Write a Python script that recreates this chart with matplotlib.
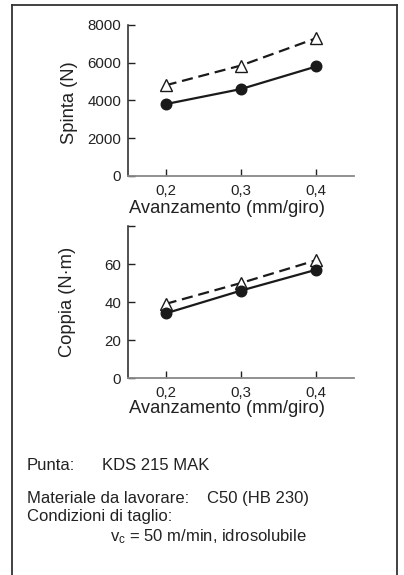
import matplotlib
matplotlib.use("Agg")
import matplotlib.pyplot as plt
from matplotlib.lines import Line2D

plt.rcParams['font.family'] = ['Liberation Sans', 'DejaVu Sans']
plt.rcParams['mathtext.fontset'] = 'custom'
plt.rcParams['mathtext.rm'] = 'Liberation Sans'
plt.rcParams['mathtext.it'] = 'Liberation Sans'

# Data
feed = [0.2, 0.3, 0.4]
feed_labels = ['0,2', '0,3', '0,4']
thrust_solid = [3800, 4600, 5800]
thrust_dashed = [4800, 5850, 7300]
torque_solid = [34, 46, 57]
torque_dashed = [39, 50, 62]
thrust_ticks = [0, 2000, 4000, 6000, 8000]
torque_ticks = [0, 20, 40, 60, 80]
torque_tick_labels = ['0', '20', '40', '60', '']

W, H = 404, 575
fig = plt.figure(figsize=(W / 100, H / 100), dpi=100)

def fx(px):
    return px / W

def fy(py):
    return 1 - py / H

# frame (no bottom edge)
frame_col = '#333333'
for xs, ys in [([12, 12], [5, 575]), ([397, 397], [5, 575]), ([12, 397], [5, 5])]:
    fig.add_artist(Line2D([fx(x) for x in xs], [fy(y) for y in ys],
                          color=frame_col, lw=1.3, transform=fig.transFigure))

def style_axes(ax, yticks, ylabels, ylim):
    ax.set_xlim(0.15, 0.45)
    ax.set_ylim(*ylim)
    ax.set_xticks(feed)
    ax.set_xticklabels(feed_labels)
    ax.set_yticks(yticks)
    ax.set_yticklabels(ylabels)
    for s in ['top', 'right']:
        ax.spines[s].set_visible(False)
    ax.spines['left'].set_color('#222222')
    ax.spines['left'].set_linewidth(1.1)
    ax.spines['bottom'].set_color('#888888')
    ax.spines['bottom'].set_linewidth(1.3)
    ax.tick_params(axis='both', direction='in', length=5, width=1.0,
                   labelsize=10.8, colors='#222222')
    ax.tick_params(axis='x', pad=6, color='#222222')
    ax.tick_params(axis='y', pad=5)
    ax.patch.set_alpha(0)

def draw(ax, solid, dashed):
    ax.plot(feed, dashed, color='#1a1a1a', lw=1.6, ls=(0, (5, 2.6)),
            marker='^', markersize=9, markerfacecolor='white',
            markeredgecolor='#1a1a1a', markeredgewidth=1.0, clip_on=False, zorder=3)
    ax.plot(feed, solid, color='#1a1a1a', lw=1.6, ls='-',
            marker='o', markersize=7.6, markerfacecolor='#1a1a1a',
            markeredgecolor='#1a1a1a', clip_on=False, zorder=4)

# top axes
y_top0, y_top1 = 25, 175.7
ax1 = fig.add_axes([fx(128), fy(y_top1), fx(354) - fx(128), (y_top1 - y_top0) / H])
draw(ax1, thrust_solid, thrust_dashed)
style_axes(ax1, thrust_ticks, [str(t) for t in thrust_ticks], (0, 8000))

# bottom axes
y_b0, y_b1 = 226, 378
ax2 = fig.add_axes([fx(128), fy(y_b1), fx(354) - fx(128), (y_b1 - y_b0) / H])
draw(ax2, torque_solid, torque_dashed)
style_axes(ax2, torque_ticks, torque_tick_labels, (0, 80))

# axis labels
lab_size = 13.2
fig.text(fx(227), fy(213), 'Avanzamento (mm/giro)', ha='center', va='baseline',
         fontsize=lab_size, color='#222222')
fig.text(fx(227), fy(413), 'Avanzamento (mm/giro)', ha='center', va='baseline',
         fontsize=lab_size, color='#222222')
fig.text(fx(70), fy(103), 'Spinta (N)', ha='center', va='center', rotation=90,
         fontsize=lab_size, color='#222222')
fig.text(fx(67), fy(302), 'Coppia (N·m)', ha='center', va='center', rotation=90,
         fontsize=lab_size, color='#222222')

# notes
ts = 12
tc = '#222222'
fig.text(fx(27), fy(470), 'Punta:', ha='left', va='baseline', fontsize=ts, color=tc)
fig.text(fx(102), fy(470), 'KDS 215 MAK', ha='left', va='baseline', fontsize=ts, color=tc)
fig.text(fx(27), fy(503), 'Materiale da lavorare:', ha='left', va='baseline', fontsize=ts, color=tc)
fig.text(fx(207), fy(503), 'C50 (HB 230)', ha='left', va='baseline', fontsize=ts, color=tc)
fig.text(fx(27), fy(520.5), 'Condizioni di taglio:', ha='left', va='baseline', fontsize=ts, color=tc)
fig.text(fx(110), fy(541), r'v$_\mathrm{c}$ = 50 m/min, idrosolubile', ha='left', va='baseline',
         fontsize=ts, color=tc)

fig.savefig('out.png', dpi=100, facecolor='white')
